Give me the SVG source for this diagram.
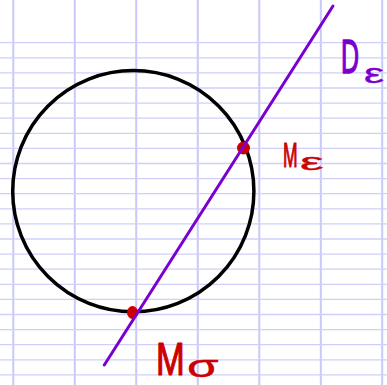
<svg xmlns="http://www.w3.org/2000/svg" width="387" height="385" viewBox="0 0 387 385">
<style>
.v{stroke:#c8c8fa;stroke-width:2}
.h{stroke:#cfcffa;stroke-width:1.3}
.red{fill:#cc0000;stroke:#cc0000;stroke-width:1.2;stroke-linejoin:round;font-family:"Liberation Sans",Arial,sans-serif}
.pur{fill:#7a00d0;stroke:#7a00d0;stroke-width:1.5;stroke-linejoin:round;font-family:"Liberation Sans",Arial,sans-serif}
.sub{stroke-width:0.4}
</style>
<rect width="387" height="385" fill="#ffffff"/>
<g id="grid">
<line class="v" x1="13.3" y1="0" x2="13.3" y2="385"/>
<line class="v" x1="74.8" y1="0" x2="74.8" y2="385"/>
<line class="v" x1="136.2" y1="0" x2="136.2" y2="385"/>
<line class="v" x1="197.8" y1="0" x2="197.8" y2="385"/>
<line class="v" x1="259.3" y1="0" x2="259.3" y2="385"/>
<line class="v" x1="320.8" y1="0" x2="320.8" y2="385"/>
<line class="v" x1="382.2" y1="0" x2="382.2" y2="385"/>
<line class="h" x1="0" y1="42.7" x2="387" y2="42.7"/>
<line class="h" x1="0" y1="57.8" x2="387" y2="57.8"/>
<line class="h" x1="0" y1="72.9" x2="387" y2="72.9"/>
<line class="h" x1="0" y1="88" x2="387" y2="88"/>
<line class="h" x1="0" y1="103.1" x2="387" y2="103.1"/>
<line class="h" x1="0" y1="118.2" x2="387" y2="118.2"/>
<line class="h" x1="0" y1="133.3" x2="387" y2="133.3"/>
<line class="h" x1="0" y1="148.4" x2="387" y2="148.4"/>
<line class="h" x1="0" y1="163.5" x2="387" y2="163.5"/>
<line class="h" x1="0" y1="178.6" x2="387" y2="178.6"/>
<line class="h" x1="0" y1="193.7" x2="387" y2="193.7"/>
<line class="h" x1="0" y1="208.8" x2="387" y2="208.8"/>
<line class="h" x1="0" y1="223.9" x2="387" y2="223.9"/>
<line class="h" x1="0" y1="239" x2="387" y2="239"/>
<line class="h" x1="0" y1="254.1" x2="387" y2="254.1"/>
<line class="h" x1="0" y1="269.2" x2="387" y2="269.2"/>
<line class="h" x1="0" y1="284.3" x2="387" y2="284.3"/>
<line class="h" x1="0" y1="299.4" x2="387" y2="299.4"/>
<line class="h" x1="0" y1="314.5" x2="387" y2="314.5"/>
<line class="h" x1="0" y1="329.6" x2="387" y2="329.6"/>
<line class="h" x1="0" y1="344.7" x2="387" y2="344.7"/>
<line class="h" x1="0" y1="359.8" x2="387" y2="359.8"/>
<line class="h" x1="0" y1="374.9" x2="387" y2="374.9"/>
</g>
<g id="circle">
<circle cx="133.3" cy="191.2" r="120.6" fill="none" stroke="#000000" stroke-width="3.5"/>
</g>
<g id="M0-dot"><ellipse cx="132.5" cy="312.5" rx="5.5" ry="6.5" fill="#cc0000"/></g>
<g id="Mt-dot"><circle cx="243.5" cy="148" r="6.5" fill="#cc0000"/></g>
<g id="connectors">
<line x1="104.3" y1="365" x2="333" y2="6" stroke="#7a00d0" stroke-width="3" stroke-linecap="round"/>
</g>
<g id="label-D">
<text class="pur" transform="translate(341,73) scale(0.52,1)" font-size="48">D</text>
<text class="pur sub" transform="translate(364,83) scale(1.6,1)" font-size="28">ε</text>
</g>
<g id="label-Mt">
<text class="red" transform="translate(283,166.5) scale(0.5,1)" font-size="35">M</text>
<text class="red sub" transform="translate(300,170) scale(2.2,1)" font-size="24">ε</text>
</g>
<g id="label-M0">
<text class="red" transform="translate(156,375) scale(0.75,1)" font-size="46">M</text>
<text class="red sub" transform="translate(187,377) scale(1.6,1)" font-size="32">σ</text>
</g>
</svg>
